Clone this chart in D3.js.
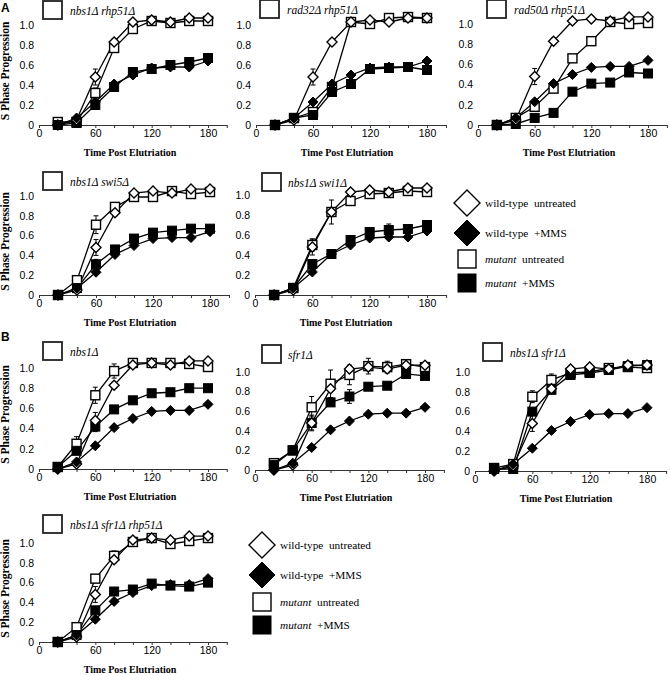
<!DOCTYPE html>
<html>
<head>
<meta charset="utf-8">
<script src="https://cdn.jsdelivr.net/npm/d3@7/dist/d3.min.js"></script>
<style>
  body { margin: 0; background: #fff; }
  svg { display: block; }
</style>
</head>
<body>
<svg id="chart" width="670" height="675"></svg>
<script>
// ---------------- DATA ----------------
const times = [20, 40, 60, 80, 100, 120, 140, 160, 180];
const xTickValues = [0, 20, 40, 60, 80, 100, 120, 140, 160, 180, 200];
const xLabelValues = [0, 60, 120, 180];
const yTickValues = [0, 0.2, 0.4, 0.6, 0.8, 1.0];

// wild-type controls (shared by all panels)
const wtUntreated    = [0.00, 0.05, 0.48, 0.83, 1.03, 1.05, 1.03, 1.07, 1.07];
const wtUntreatedErr = [0, 0, 0.08, 0.03, 0, 0, 0, 0, 0];
const wtMMS          = [0.00, 0.07, 0.23, 0.41, 0.50, 0.57, 0.58, 0.58, 0.64];
const wtMMSErr       = [0, 0, 0.02, 0.02, 0.01, 0.01, 0.02, 0.01, 0.01];

// A: nbs1Δ rhp51Δ
const nbs1rhp51Untreated    = [0.03, 0.03, 0.32, 0.77, 0.96, 1.04, 1.02, 1.04, 1.04];
const nbs1rhp51UntreatedErr = [0, 0, 0.05, 0.02, 0, 0, 0, 0, 0];
const nbs1rhp51MMS          = [0.00, 0.02, 0.20, 0.38, 0.53, 0.56, 0.60, 0.63, 0.67];
const nbs1rhp51MMSErr       = [0, 0, 0.02, 0.02, 0, 0, 0, 0, 0];
// A: rad32Δ rhp51Δ
const rad32rhp51Untreated    = [0.00, 0.07, 0.13, 0.38, 1.03, 1.01, 1.07, 1.08, 1.07];
const rad32rhp51UntreatedErr = [0, 0, 0.03, 0.02, 0, 0, 0, 0, 0];
const rad32rhp51MMS          = [0.00, 0.07, 0.10, 0.33, 0.41, 0.56, 0.57, 0.58, 0.55];
const rad32rhp51MMSErr       = [0, 0, 0.02, 0.04, 0, 0, 0, 0, 0];
// A: rad50Δ rhp51Δ
const rad50rhp51Untreated    = [0.00, 0.07, 0.18, 0.36, 0.66, 0.83, 1.02, 1.00, 1.01];
const rad50rhp51UntreatedErr = [0, 0, 0, 0, 0, 0, 0, 0, 0];
const rad50rhp51MMS          = [0.00, 0.01, 0.07, 0.12, 0.33, 0.41, 0.42, 0.52, 0.51];
const rad50rhp51MMSErr       = [0, 0, 0, 0, 0, 0, 0, 0, 0];
// A: nbs1Δ swi5Δ
const nbs1swi5Untreated    = [0.00, 0.15, 0.71, 0.89, 0.99, 0.99, 1.05, 1.02, 1.04];
const nbs1swi5UntreatedErr = [0, 0, 0.09, 0.02, 0, 0, 0, 0, 0];
const nbs1swi5MMS          = [0.00, 0.07, 0.31, 0.46, 0.57, 0.63, 0.65, 0.67, 0.67];
const nbs1swi5MMSErr       = [0, 0, 0.05, 0.02, 0, 0, 0, 0, 0];
// A: nbs1Δ swi1Δ
const nbs1swi1Untreated    = [0.00, 0.07, 0.50, 0.83, 0.94, 1.01, 1.02, 1.04, 1.03];
const nbs1swi1UntreatedErr = [0, 0, 0.06, 0.12, 0, 0, 0, 0, 0];
const nbs1swi1MMS          = [0.00, 0.07, 0.31, 0.41, 0.55, 0.63, 0.65, 0.66, 0.70];
const nbs1swi1MMSErr       = [0, 0, 0.02, 0.02, 0, 0.02, 0.06, 0.02, 0];
// B: nbs1Δ
const nbs1Untreated    = [0.02, 0.25, 0.73, 0.97, 1.05, 1.05, 1.05, 1.04, 1.01];
const nbs1UntreatedErr = [0, 0.07, 0.08, 0.07, 0, 0, 0, 0, 0];
const nbs1MMS          = [0.02, 0.18, 0.42, 0.59, 0.68, 0.75, 0.76, 0.80, 0.80];
const nbs1MMSErr       = [0, 0.02, 0.05, 0.02, 0, 0, 0, 0, 0];
// B: sfr1Δ
const sfr1Untreated    = [0.07, 0.20, 0.64, 0.88, 0.97, 1.06, 1.05, 1.08, 1.05];
const sfr1UntreatedErr = [0, 0, 0.11, 0.14, 0.10, 0.08, 0.06, 0.02, 0];
const sfr1MMS          = [0.05, 0.20, 0.48, 0.69, 0.75, 0.85, 0.86, 0.98, 0.96];
const sfr1MMSErr       = [0, 0, 0.07, 0.02, 0.07, 0, 0, 0, 0];
// B: nbs1Δ sfr1Δ
const nbs1sfr1Untreated    = [0.03, 0.07, 0.75, 0.92, 0.99, 1.00, 1.04, 1.05, 1.04];
const nbs1sfr1UntreatedErr = [0, 0, 0.06, 0.06, 0, 0, 0, 0, 0];
const nbs1sfr1MMS          = [0.02, 0.02, 0.60, 0.82, 0.97, 0.99, 1.02, 1.06, 1.07];
const nbs1sfr1MMSErr       = [0, 0, 0.03, 0.02, 0, 0, 0, 0, 0];
// B: nbs1Δ sfr1Δ rhp51Δ
const nbs1sfr1rhp51Untreated    = [0.00, 0.15, 0.64, 0.87, 1.01, 1.05, 0.99, 1.02, 1.05];
const nbs1sfr1rhp51UntreatedErr = [0, 0, 0.03, 0.05, 0, 0, 0, 0, 0];
const nbs1sfr1rhp51MMS          = [0.00, 0.07, 0.32, 0.51, 0.53, 0.59, 0.57, 0.56, 0.60];
const nbs1sfr1rhp51MMSErr       = [0, 0, 0.03, 0.02, 0, 0, 0, 0, 0];

const panelTitles = [
  "nbs1Δ rhp51Δ", "rad32Δ rhp51Δ", "rad50Δ rhp51Δ",
  "nbs1Δ swi5Δ", "nbs1Δ swi1Δ",
  "nbs1Δ", "sfr1Δ", "nbs1Δ sfr1Δ",
  "nbs1Δ sfr1Δ rhp51Δ"
];
const mutantUntreatedSeries = [nbs1rhp51Untreated, rad32rhp51Untreated, rad50rhp51Untreated,
  nbs1swi5Untreated, nbs1swi1Untreated, nbs1Untreated, sfr1Untreated, nbs1sfr1Untreated, nbs1sfr1rhp51Untreated];
const mutantUntreatedErrs = [nbs1rhp51UntreatedErr, rad32rhp51UntreatedErr, rad50rhp51UntreatedErr,
  nbs1swi5UntreatedErr, nbs1swi1UntreatedErr, nbs1UntreatedErr, sfr1UntreatedErr, nbs1sfr1UntreatedErr, nbs1sfr1rhp51UntreatedErr];
const mutantMMSSeries = [nbs1rhp51MMS, rad32rhp51MMS, rad50rhp51MMS,
  nbs1swi5MMS, nbs1swi1MMS, nbs1MMS, sfr1MMS, nbs1sfr1MMS, nbs1sfr1rhp51MMS];
const mutantMMSErrs = [nbs1rhp51MMSErr, rad32rhp51MMSErr, rad50rhp51MMSErr,
  nbs1swi5MMSErr, nbs1swi1MMSErr, nbs1MMSErr, sfr1MMSErr, nbs1sfr1MMSErr, nbs1sfr1rhp51MMSErr];

const legendLabels = [
  {main: "wild-type", rest: "  untreated", italic: false, shape: "diamond", fill: false},
  {main: "wild-type", rest: "  +MMS", italic: false, shape: "diamond", fill: true},
  {main: "mutant", rest: "  untreated", italic: true, shape: "square", fill: false},
  {main: "mutant", rest: "  +MMS", italic: true, shape: "square", fill: true}
];

// ---------------- LAYOUT ----------------
// x0: pixel of t=0, x180: pixel of t=180, y0: pixel of 0, y1: pixel of 1.0
const layout = [
  {x0: 39,  x180: 208, y0: 125, y1: 25,  bx: 43,  by: 1,   tx: 70,  tyl: true},
  {x0: 256, x180: 427, y0: 125, y1: 25,  bx: 260, by: 0,   tx: 287, tyl: false},
  {x0: 478, x180: 648, y0: 125, y1: 24,  bx: 487, by: 0,   tx: 514, tyl: false},
  {x0: 39,  x180: 210, y0: 295, y1: 196, bx: 43,  by: 172, tx: 70,  tyl: true},
  {x0: 255, x180: 427, y0: 295, y1: 195, bx: 262, by: 173, tx: 288, tyl: false},
  {x0: 39,  x180: 208, y0: 469, y1: 368, bx: 43,  by: 342, tx: 70,  tyl: true},
  {x0: 255, x180: 425, y0: 470, y1: 372, bx: 262, by: 345, tx: 288, tyl: false},
  {x0: 475, x180: 647, y0: 471, y1: 372, bx: 483, by: 343, tx: 510, tyl: false},
  {x0: 39,  x180: 208, y0: 642, y1: 543, bx: 43,  by: 515, tx: 70,  tyl: true}
];

const svg = d3.select("#chart");
const serif = "'Liberation Serif', 'Times New Roman', serif";
const sans = "'Liberation Sans', Arial, sans-serif";

svg.append("text").attr("x", 1).attr("y", 12).attr("font-family", sans)
  .attr("font-weight", "bold").attr("font-size", 12).text("A");
svg.append("text").attr("x", 1).attr("y", 341).attr("font-family", sans)
  .attr("font-weight", "bold").attr("font-size", 12).text("B");

function drawMarker(g, shape, filled, cx, cy, s) {
  if (shape === "diamond") {
    g.append("path")
      .attr("d", `M${cx},${cy - s}L${cx + s},${cy}L${cx},${cy + s}L${cx - s},${cy}Z`)
      .attr("fill", filled ? "#000" : "#fff").attr("stroke", "#000")
      .attr("stroke-width", filled ? 1 : 1.4);
  } else {
    g.append("rect").attr("x", cx - s).attr("y", cy - s)
      .attr("width", 2 * s).attr("height", 2 * s)
      .attr("fill", filled ? "#000" : "#fff").attr("stroke", "#000")
      .attr("stroke-width", filled ? 1 : 1.4);
  }
}

layout.forEach((L, i) => {
  const g = svg.append("g");
  const x = d3.scaleLinear().domain([0, 200]).range([L.x0, L.x0 + (L.x180 - L.x0) * 200 / 180]);
  const y = d3.scaleLinear().domain([0, 1]).range([L.y0, L.y1]);

  // x axis
  const xAxis = d3.axisBottom(x).tickValues(xTickValues).tickSize(3).tickSizeOuter(0)
    .tickFormat(d => xLabelValues.includes(d) ? d : "");
  const xg = g.append("g").attr("transform", `translate(0,${L.y0})`).call(xAxis);
  xg.select(".domain").attr("stroke", "#333").attr("stroke-width", 1);
  xg.selectAll(".tick line").attr("stroke", "#333");
  xg.selectAll(".tick text").attr("font-family", sans).attr("font-size", 10.5)
    .attr("fill", "#000").attr("dy", "0.9em").attr("y", 3);

  // y axis (labels only)
  const yAxis = d3.axisLeft(y).tickValues(yTickValues).tickSize(0)
    .tickFormat(d => d === 0 ? "0" : d3.format(".1f")(d));
  const yg = g.append("g").attr("transform", `translate(${L.x0 - 5},0)`).call(yAxis);
  yg.select(".domain").remove();
  yg.selectAll(".tick text").attr("font-family", sans).attr("font-size", 10.5)
    .attr("fill", "#000").attr("x", 0);

  // axis titles
  g.append("text").attr("x", L.x0 + 91).attr("y", L.y0 + 31).attr("text-anchor", "middle")
    .attr("font-family", serif).attr("font-weight", "bold").attr("font-size", 10)
    .text("Time Post Elutriation");
  if (L.tyl) {
    const cy = (L.y0 + L.y1) / 2 - 4;
    g.append("text").attr("transform", `translate(9,${cy}) rotate(-90)`)
      .attr("text-anchor", "middle").attr("font-family", serif).attr("font-weight", "bold")
      .attr("font-size", 11.5).text("S Phase Progression");
  }

  // title box + title
  g.append("rect").attr("x", L.bx).attr("y", L.by).attr("width", 19).attr("height", 18)
    .attr("fill", "#fff").attr("stroke", "#222").attr("stroke-width", 1.8);
  g.append("text").attr("x", L.tx).attr("y", L.by + 14).attr("font-family", serif)
    .attr("font-style", "italic").attr("font-size", 11.5).text(panelTitles[i]);

  const series = [
    {vals: mutantUntreatedSeries[i], err: mutantUntreatedErrs[i], shape: "square", fill: false, s: 4.5},
    {vals: mutantMMSSeries[i], err: mutantMMSErrs[i], shape: "square", fill: true, s: 4.5},
    {vals: wtUntreated, err: wtUntreatedErr, shape: "diamond", fill: false, s: 5},
    {vals: wtMMS, err: wtMMSErr, shape: "diamond", fill: true, s: 5}
  ];
  const line = d3.line().x((d, j) => x(times[j])).y(d => y(d));
  series.forEach(S => {
    g.append("path").datum(S.vals).attr("d", line).attr("fill", "none")
      .attr("stroke", "#000").attr("stroke-width", 1.3);
  });
  series.forEach(S => {
    S.vals.forEach((v, j) => {
      const e = S.err[j];
      if (e > 0) {
        const cx = x(times[j]);
        g.append("line").attr("x1", cx).attr("x2", cx).attr("y1", y(v - e)).attr("y2", y(v + e))
          .attr("stroke", "#000").attr("stroke-width", 1);
        [v - e, v + e].forEach(b => {
          g.append("line").attr("x1", cx - 2.5).attr("x2", cx + 2.5).attr("y1", y(b)).attr("y2", y(b))
            .attr("stroke", "#000").attr("stroke-width", 1);
        });
      }
    });
  });
  series.forEach(S => {
    S.vals.forEach((v, j) => drawMarker(g, S.shape, S.fill, x(times[j]), y(v), S.s));
  });
});

// legends
const legendPos = [
  {cx: 467, ys: [203, 233, 259, 283], tx: 485},
  {cx: 262, ys: [545, 575, 602, 625], tx: 280}
];
legendPos.forEach(P => {
  const g = svg.append("g");
  legendLabels.forEach((lab, k) => {
    const cy = P.ys[k];
    if (lab.shape === "diamond") {
      drawMarker(g, "diamond", lab.fill, P.cx, cy, 13);
    } else {
      drawMarker(g, "square", lab.fill, P.cx, cy, 9);
    }
    const t = g.append("text").attr("x", P.tx).attr("y", cy + 4)
      .attr("font-family", serif).attr("font-size", 11.3).attr("xml:space", "preserve")
      .style("white-space", "pre");
    t.append("tspan").attr("font-style", lab.italic ? "italic" : "normal").text(lab.main);
    t.append("tspan").text(lab.rest);
  });
});
</script>
</body>
</html>
